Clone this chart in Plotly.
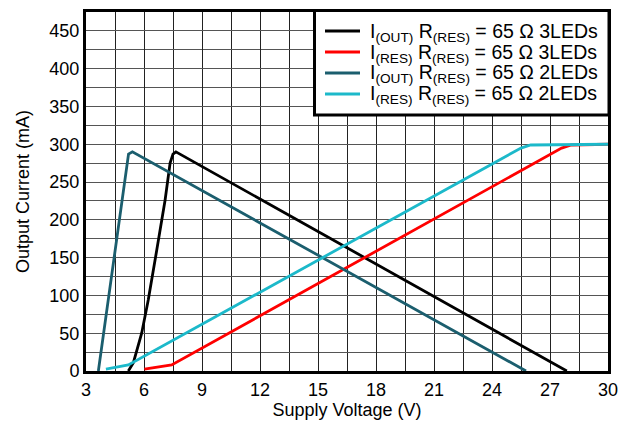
import plotly.graph_objects as go

# I(OUT), 3 LEDs
v_out3 = [5.19, 5.45, 5.88, 6.22, 6.66, 7.09, 7.35, 7.5, 7.65, 27.87]
i_out3 = [0, 11, 50, 94, 160, 226, 275, 287, 290, 0]
# I(RES), 3 LEDs
v_res3 = [6.02, 7.43, 27.6, 28.1, 30]
i_res3 = [2.5, 8, 295, 299, 300]
# I(OUT), 2 LEDs
v_out2 = [3.64, 5.2, 5.4, 25.76]
i_out2 = [0, 287, 290, 0]
# I(RES), 2 LEDs
v_res2 = [4.03, 5.19, 25.5, 26.0, 30]
i_res2 = [2.5, 8, 295, 299, 300]

names = [
    "I<sub>(OUT)</sub> R<sub>(RES)</sub> = 65 Ω 3LEDs",
    "I<sub>(RES)</sub> R<sub>(RES)</sub> = 65 Ω 3LEDs",
    "I<sub>(OUT)</sub> R<sub>(RES)</sub> = 65 Ω 2LEDs",
    "I<sub>(RES)</sub> R<sub>(RES)</sub> = 65 Ω 2LEDs",
]
colors = ["#000000", "#FF0000", "#1B5E6E", "#1CB9CA"]
xs = [v_out3, v_res3, v_out2, v_res2]
ys = [i_out3, i_res3, i_out2, i_res2]

# page offset (body margin) and plot area in screen pixels
OX, OY = 8, 8
W, H = 615, 413
PL, PR, PT, PB = 86, 608, 12, 371   # screen coords of plot area
L, T = PL - OX, PT - OY
R = W - (PR - OX)
B = H - (PB - OY)
PW, PH = PR - PL, PB - PT

def px(x):
    return (x - PL) / PW

def py(y):
    return (PB - y) / PH

fig = go.Figure()
for x, y, n, c in zip(xs, ys, names, colors):
    fig.add_trace(go.Scatter(x=x, y=y, mode="lines", name=n,
                             line=dict(color=c, width=2.8)))

FAM = "Liberation Sans, Arial, sans-serif"
font = dict(family=FAM, size=18, color="#000")

# manual legend (box + samples + labels)
shapes = [dict(type="rect", xref="paper", yref="paper",
               x0=px(314.5), x1=px(609), y0=py(115), y1=py(10.5),
               line=dict(color="black", width=3), fillcolor="white", layer="above")]
annotations = []
rows = [31, 52, 73, 94]
for rowy, n, c in zip(rows, names, colors):
    shapes.append(dict(type="line", xref="paper", yref="paper",
                       x0=px(325), x1=px(360), y0=py(rowy), y1=py(rowy),
                       line=dict(color=c, width=2.8), layer="above"))
    annotations.append(dict(xref="paper", yref="paper", x=px(368), y=py(rowy + 1),
                            xanchor="left", yanchor="middle", showarrow=False,
                            text=n, font=dict(family=FAM, size=19.5, color="#000")))

fig.update_layout(
    width=W, height=H,
    margin=dict(l=L, r=R, t=T, b=B),
    paper_bgcolor="white", plot_bgcolor="white",
    font=font, showlegend=False,
    shapes=shapes, annotations=annotations,
)
fig.update_xaxes(
    range=[3, 30], dtick=3, tick0=3, automargin=False,
    showgrid=True, gridcolor="#222", gridwidth=1,
    minor=dict(dtick=1.5, showgrid=True, gridcolor="#222", gridwidth=1),
    showline=True, linecolor="black", linewidth=3, mirror=True,
    zeroline=False, ticks="",
    title=dict(text="Supply Voltage (V)", standoff=2, font=font),
    tickfont=font,
)
fig.update_yaxes(
    range=[0, 475], dtick=50, tick0=0, automargin=False,
    showgrid=True, gridcolor="#555", gridwidth=1,
    minor=dict(dtick=25, showgrid=True, gridcolor="#555", gridwidth=1),
    showline=True, linecolor="black", linewidth=3, mirror=True,
    zeroline=False, ticks="",
    title=dict(text="Output Current (mA)", standoff=16, font=font),
    tickfont=font,
)
fig.write_html("out.html")
